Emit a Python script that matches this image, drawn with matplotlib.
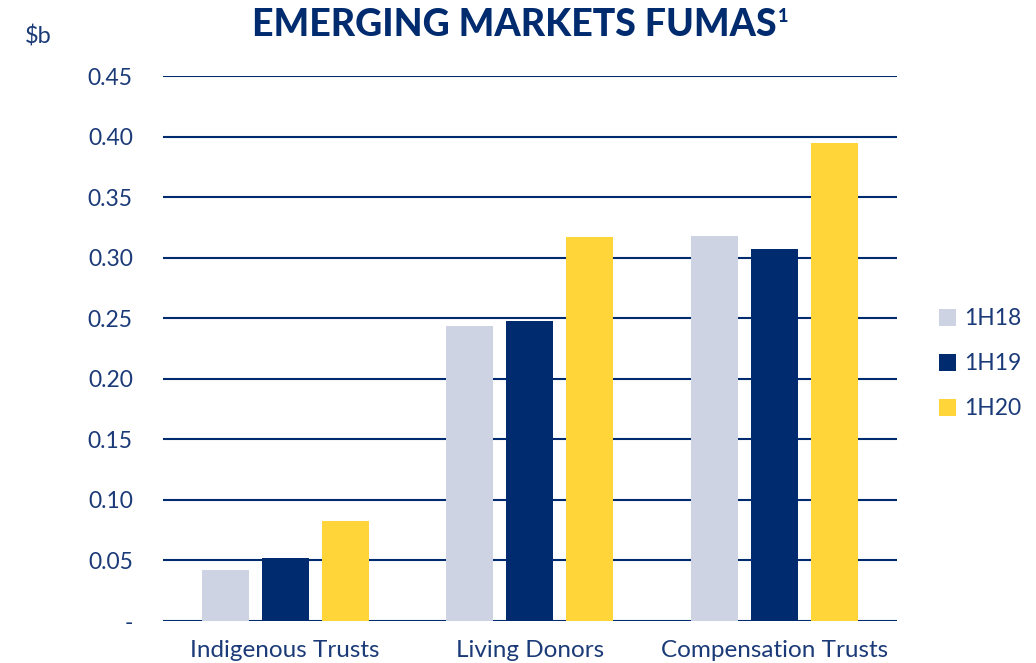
import matplotlib.pyplot as plt
import numpy as np

categories = ["Indigenous Trusts", "Living Donors", "Compensation Trusts"]
series_names = ["1H18", "1H19", "1H20"]
v_1h18 = [0.042, 0.244, 0.318]
v_1h19 = [0.052, 0.248, 0.307]
v_1h20 = [0.083, 0.317, 0.395]
yticks = [0, 0.05, 0.10, 0.15, 0.20, 0.25, 0.30, 0.35, 0.40, 0.45]
ylabels = ["-", "0.05", "0.10", "0.15", "0.20", "0.25", "0.30", "0.35", "0.40", "0.45"]

navy = "#002B6E"
txt = "#1B3A78"
colors = ["#CDD3E3", navy, "#FFD53A"]

plt.rcParams['font.family'] = ['Lato', 'DejaVu Sans']

fig = plt.figure(figsize=(10.36, 6.63), dpi=100)
ax = fig.add_axes([0.157, 0.0633, 0.709, 0.822])

x = np.arange(len(categories))
w = 0.192
step = 0.245
for i, vals in enumerate([v_1h18, v_1h19, v_1h20]):
    ax.bar(x + (i - 1) * step, vals, width=w, color=colors[i], label=series_names[i], zorder=3)

# horizontal gridlines incl. zero
for t in yticks:
    ax.axhline(t, color=navy, lw=1.5, zorder=2)

ax.set_xlim(-0.5, 2.5)
ax.set_ylim(0, 0.45)
ax.set_yticks(yticks)
ax.set_yticklabels(ylabels)
ax.set_xticks(x)
ax.set_xticklabels(categories)
for s in ax.spines.values():
    s.set_visible(False)
ax.tick_params(axis='y', length=0, labelsize=16.5, colors=txt, pad=21.5)
ax.tick_params(axis='x', length=0, labelsize=17.5, colors=txt, pad=14)

fig.text(0.024, 0.945, "$b", fontsize=17, color=txt, ha='left', va='center')
title = fig.text(0.496, 0.962, "EMERGING MARKETS FUMAS", fontsize=27, fontweight='black',
                 color=navy, ha='center', va='center')
# superscript right after title
ax.annotate("1", xy=(1, 1), xycoords=title, xytext=(1, 0), textcoords='offset points',
            fontsize=13, fontweight='black', color=navy, ha='left', va='top',
            annotation_clip=False)

ax.legend(loc='center left', bbox_to_anchor=(1.057, 0.472), frameon=False,
          fontsize=16.5, labelcolor=txt, handlelength=0.75, handleheight=0.75,
          handletextpad=0.35, labelspacing=1.05, borderaxespad=0, borderpad=0)

fig.savefig("out.png", dpi=100)
